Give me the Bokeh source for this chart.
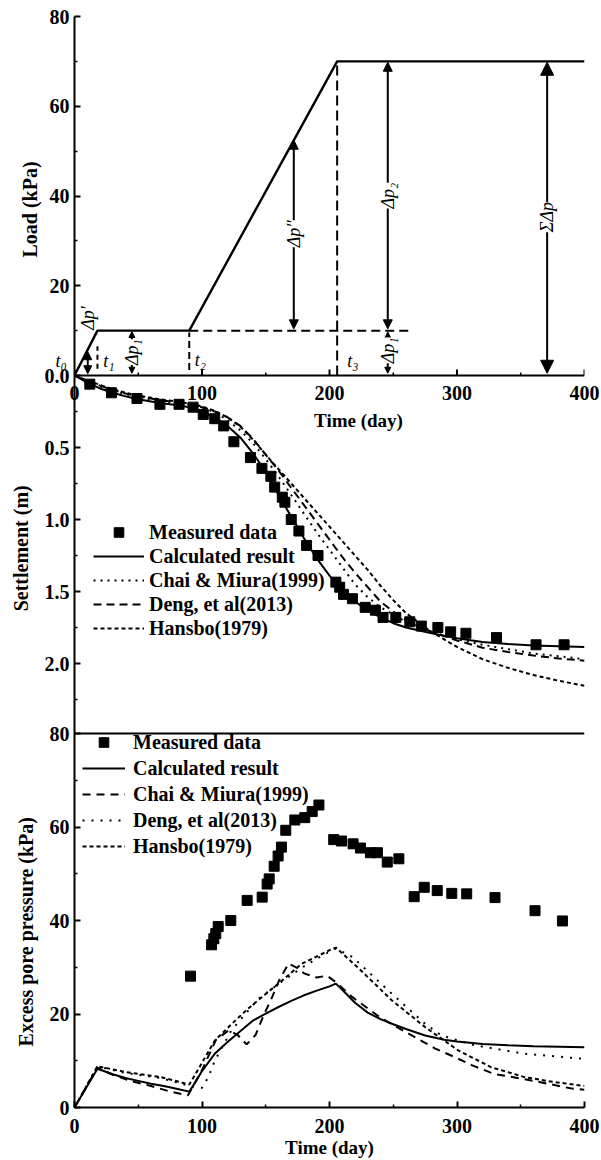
import math
import numpy as np
from bokeh.plotting import figure
from bokeh.models import (Range1d, FixedTicker, CustomJSTickFormatter, Span, Label, Arrow,
                          NormalHead, Legend, LegendItem)
from bokeh.core.properties import value
from bokeh.embed import file_html
from bokeh.resources import INLINE

# ---------------- data ----------------
# load schedule (top panel)
load_days = [0, 18, 90, 206, 400]
load_kpa = [0, 10, 10, 70, 70]

# settlement (middle panel)
settle_meas_days = [12, 29, 49, 67, 82, 93, 101, 110, 117, 125, 138, 147, 154, 157, 163, 165, 170, 176,
                    182, 191, 205, 208, 211, 218, 228, 236, 242, 252, 263, 272, 285, 295, 307, 331, 362, 384]
settle_meas = [0.06, 0.12, 0.16, 0.20, 0.20, 0.22, 0.27, 0.30, 0.35, 0.46, 0.57, 0.645, 0.70, 0.775, 0.845,
               0.88, 1.0, 1.08, 1.18, 1.25, 1.435, 1.47, 1.52, 1.55, 1.61, 1.63, 1.68, 1.68, 1.71, 1.74,
               1.75, 1.78, 1.79, 1.82, 1.87, 1.87]
settle_days = [0, 10, 20, 30, 40, 50, 60, 70, 80, 90, 100, 110, 120, 130, 140, 150, 160, 170, 180, 190,
               200, 210, 220, 230, 240, 250, 260, 280, 300, 320, 340, 360, 380, 400]
settle_calc = [0, 0.05, 0.09, 0.12, 0.145, 0.165, 0.18, 0.195, 0.205, 0.22, 0.25, 0.29, 0.35, 0.43, 0.54,
               0.67, 0.83, 0.98, 1.13, 1.27, 1.39, 1.49, 1.57, 1.63, 1.68, 1.72, 1.75, 1.79, 1.825, 1.85,
               1.865, 1.875, 1.88, 1.885]
settle_chai = [0, 0.04, 0.075, 0.105, 0.13, 0.15, 0.165, 0.18, 0.19, 0.205, 0.225, 0.255, 0.31, 0.38, 0.47,
               0.58, 0.70, 0.83, 0.96, 1.09, 1.21, 1.33, 1.45, 1.54, 1.61, 1.66, 1.71, 1.78, 1.83, 1.87,
               1.90, 1.93, 1.95, 1.97]
settle_deng = [0, 0.04, 0.07, 0.10, 0.125, 0.145, 0.16, 0.175, 0.185, 0.20, 0.22, 0.25, 0.29, 0.35, 0.44,
               0.55, 0.66, 0.78, 0.90, 1.02, 1.14, 1.26, 1.37, 1.47, 1.57, 1.64, 1.70, 1.78, 1.84, 1.89,
               1.92, 1.945, 1.965, 1.98]
settle_hansbo = [0, 0.035, 0.065, 0.095, 0.12, 0.14, 0.155, 0.17, 0.18, 0.195, 0.215, 0.245, 0.29, 0.355,
                 0.445, 0.55, 0.65, 0.75, 0.85, 0.95, 1.05, 1.15, 1.25, 1.35, 1.46, 1.56, 1.65, 1.78, 1.885,
                 1.97, 2.03, 2.08, 2.12, 2.155]

# excess pore pressure (bottom panel)
pore_meas_days = [91, 107.5, 109.3, 110.8, 112.7, 122.6, 135.4, 147.2, 151.1, 152.7, 156.6, 159.7, 162.3,
                  165.7, 172.8, 180.6, 186.4, 191.7, 203.3, 209.4, 218.5, 224.3, 232.1, 237.6, 245.3, 254.4,
                  266.4, 274.3, 284.5, 295.9, 307.6, 329.8, 361.2, 382.7]
pore_meas = [28.1, 34.8, 36.1, 37.2, 38.7, 40.0, 44.3, 45.0, 47.8, 48.9, 51.6, 53.8, 55.7, 59.3, 61.5, 62.0,
             63.3, 64.7, 57.3, 57.0, 56.4, 55.5, 54.5, 54.5, 52.5, 53.2, 45.1, 47.1, 46.4, 45.8, 45.7, 44.9,
             42.1, 39.9]
pore_calc_days = [0, 18, 30, 40, 50, 60, 70, 80, 90, 95, 100, 110, 120, 130, 140, 150, 160, 170, 180, 190,
                  200, 205, 210, 220, 230, 240, 250, 260, 275, 290, 300, 320, 340, 360, 380, 400]
pore_calc = [0, 8.3, 7.1, 6.3, 5.7, 5.1, 4.6, 4.0, 3.4, 5.5, 7.8, 11.5, 14.0, 16.3, 18.6, 20.1, 21.5, 22.8,
             24.0, 25.0, 25.9, 26.5, 25.2, 22.4, 20.3, 18.9, 17.8, 16.8, 15.4, 14.5, 14.1, 13.6, 13.3, 13.1,
             13.0, 12.9]
pore_chai_days = [0, 18, 30, 45, 60, 75, 89, 100, 111, 121, 128, 135, 142, 148, 155, 161, 168, 175, 180, 190,
                  198, 205, 218, 240, 262, 283, 298, 312, 329, 362, 389, 400]
pore_chai = [0, 8.5, 7.0, 5.6, 4.6, 3.4, 2.6, 8.0, 14.5, 16.5, 15.5, 13.5, 15.5, 19.5, 23.6, 27.5, 30.8, 29.8,
             28.7, 27.8, 28.2, 26.8, 23.6, 19.2, 15.8, 12.6, 10.8, 9.0, 7.2, 5.6, 4.1, 3.8]
pore_deng_days = [0, 18, 40, 68, 90, 100, 105, 110, 123, 144, 163, 180, 195, 205, 218, 249, 275, 288, 314,
                  353, 400]
pore_deng = [0, 8.8, 7.4, 6.3, 4.6, 4.2, 6.5, 10.0, 16.5, 23.2, 27.0, 30.2, 32.6, 34.0, 32.2, 24.3, 17.9,
             15.4, 13.3, 11.5, 10.4]
pore_hansbo_days = [0, 18, 40, 68, 90, 95, 110, 123, 136, 150, 163, 178, 190, 202, 205, 222, 249, 275, 301,
                    327, 353, 375, 400]
pore_hansbo = [0, 8.8, 7.6, 6.5, 4.9, 7.2, 14.3, 17.8, 21.1, 24.3, 27.2, 30.7, 32.3, 33.9, 34.2, 30.0, 22.9,
               17.2, 12.2, 8.6, 6.5, 5.5, 4.6]

# ticks
time_ticks = [0, 100, 200, 300, 400]
time_minor = [50, 150, 250, 350]
load_ticks = [0, 20, 40, 60, 80]
load_minor = [10, 30, 50, 70]
settle_ticks = [0.0, 0.5, 1.0, 1.5, 2.0]
settle_minor = [0.25, 0.75, 1.25, 1.75, 2.25]
pore_ticks = [0, 20, 40, 60, 80]
pore_minor = [10, 30, 50, 70]

legend_labels = ["Measured data", "Calculated result", "Chai & Miura(1999)", "Deng, et al(2013)", "Hansbo(1979)"]

# ---------------- layout (screen pixels) ----------------
W, H = 601, 1160
FL, FR, FT, FB = 74, 584, 16, 1107
Y_LOAD0, Y_PORE80 = 375, 733
SETTLE_AT_PORE80 = 2.486
LOAD_MAX, PORE_MAX, T_MAX = 80, 80, 400
FONT = "Liberation Serif"

frame_h = FB - FT
f_pore = (FB - Y_PORE80) / frame_h
f_load = (FB - Y_LOAD0) / frame_h
pore_end = PORE_MAX / f_pore
load_start = -LOAD_MAX * f_load / (1 - f_load)


def s_at(f):
    return SETTLE_AT_PORE80 * (f_load - f) / (f_load - f_pore)


def load_to_main(v):
    return (f_load + v / LOAD_MAX * (1 - f_load)) * pore_end


def settle_to_main(s):
    return (f_load - s / SETTLE_AT_PORE80 * (f_load - f_pore)) * pore_end


px_per_day = (FR - FL) / T_MAX
px_per_load = (Y_LOAD0 - FT) / LOAD_MAX
px_per_pore = (FB - Y_PORE80) / PORE_MAX

p = figure(width=W, height=H, x_range=Range1d(0, T_MAX), y_range=Range1d(0, pore_end),
           output_backend="svg", toolbar_location=None,
           min_border_left=FL, min_border_right=W - FR, min_border_top=FT, min_border_bottom=H - FB)
p.extra_y_ranges = {"load": Range1d(load_start, LOAD_MAX), "settle": Range1d(s_at(0), s_at(1))}
p.xgrid.grid_line_color = None
p.ygrid.grid_line_color = None
p.outline_line_color = None
p.background_fill_color = "white"
p.border_fill_color = "white"

# ---- left composite axis ----
major_pos, major_lab = [], []
for v in pore_ticks:
    major_pos.append(float(v)); major_lab.append(str(v))
for s in settle_ticks[1:]:
    major_pos.append(settle_to_main(s)); major_lab.append(f"{s:.1f}")
major_pos.append(load_to_main(0)); major_lab.append("0.0")
for v in load_ticks[1:]:
    major_pos.append(load_to_main(v)); major_lab.append(str(v))
minor_pos = [float(v) for v in pore_minor] + [settle_to_main(s) for s in settle_minor] + \
            [load_to_main(v) for v in load_minor]

yax = p.yaxis[0]
yax.ticker = FixedTicker(ticks=major_pos, minor_ticks=minor_pos)
yax.formatter = CustomJSTickFormatter(args=dict(pos=major_pos, lab=major_lab), code="""
let best = 0; let d = Infinity;
for (let i = 0; i < pos.length; i++) { const dd = Math.abs(pos[i] - tick); if (dd < d) { d = dd; best = i; } }
return lab[best];
""")
xax = p.xaxis[0]
xax.ticker = FixedTicker(ticks=time_ticks, minor_ticks=time_minor)
for ax in (xax, yax):
    ax.axis_line_width = 2
    ax.major_tick_in = 6
    ax.major_tick_out = 0
    ax.minor_tick_in = 3
    ax.minor_tick_out = 0
    ax.major_tick_line_width = 2
    ax.minor_tick_line_width = 1.5
    ax.major_label_text_font = FONT
    ax.major_label_text_font_style = "bold"
    ax.major_label_text_font_size = "20px"
    ax.major_label_text_color = "black"
yax.major_label_standoff = 5
xax.major_label_standoff = 11

# bottom time-axis title
p.text(x=[T_MAX / 2], y=[-(1147 - FB) / px_per_pore], text=["Time (day)"], text_align="center",
       text_baseline="middle", text_font=value(FONT), text_font_style="bold", text_font_size="19px",
       text_color="black", level="overlay")

# ---- panel separators / middle time axis ----
p.add_layout(Span(location=0, dimension="width", y_range_name="load", line_width=2, line_color="black"))
p.add_layout(Span(location=PORE_MAX, dimension="width", line_width=2, line_color="black"))
p.segment(x0=time_ticks, y0=0, x1=time_ticks, y1=6 / px_per_load, y_range_name="load",
          line_width=2, line_color="black")
p.segment(x0=time_minor, y0=0, x1=time_minor, y1=3 / px_per_load, y_range_name="load",
          line_width=1.5, line_color="black")
p.text(x=time_ticks, y=-17 / px_per_load, text=[str(t) for t in time_ticks], y_range_name="load",
       text_align="center", text_baseline="middle", text_font=value(FONT), text_font_style="bold",
       text_font_size="20px", text_color="black", level="overlay")
p.text(x=[(358 - FL) / px_per_day], y=-45 / px_per_load, text=["Time (day)"], y_range_name="load",
       text_align="center", text_baseline="middle", text_font=value(FONT), text_font_style="bold",
       text_font_size="19px", text_color="black", level="overlay")

# left axis titles
for txt, xpx, yv, rng in [("Load (kPa)", 29, 37, "load"),
                          ("Settlement (m)", 20.5, 1.20, "settle"),
                          ("Excess pore pressure (kPa)", 25, 37.6, "default")]:
    p.text(x=[(xpx - FL) / px_per_day], y=[yv], text=[txt], y_range_name=rng, angle=math.pi / 2,
           text_align="center", text_baseline="middle", text_font=value(FONT), text_font_style="bold",
           text_font_size="20px", text_color="black", level="overlay")

# ---- top panel: load schedule ----
t1, t2, t3 = load_days[1], load_days[2], load_days[3]
p1, p2 = load_kpa[1], load_kpa[3]
p.line([t2, 263], [p1, p1], y_range_name="load", line_width=2, line_dash="9 5", color="black")
p.line([t3, t3], [0, p2], y_range_name="load", line_width=2, line_dash="10 5", color="black")
p.line([t1, t1], [1.5, 6.5], y_range_name="load", line_width=2, line_dash="5 4", color="black")
p.line([t2, t2], [1.2, 9.6], y_range_name="load", line_width=2, line_dash="7 4", color="black")
p.line(load_days, load_kpa, y_range_name="load", line_width=2.4, color="black")

arrow_specs = [(10.4, 0.4, 5.3, 8), (45, 0.5, p1 - 0.2, 6), (172, p1 + 0.4, float(np.interp(172, load_days, load_kpa)), 9),
               (245.7, p1 + 0.4, p2 - 0.2, 9), (245.7, 0.5, p1 - 0.3, 6), (370.7, 0.5, p2 - 0.2, 13)]
for x, ya, yb, hs in arrow_specs:
    p.add_layout(Arrow(x_start=x, y_start=ya, x_end=x, y_end=yb, y_range_name="load", line_width=2,
                       start=NormalHead(size=hs, fill_color="black", line_color="black", line_width=1),
                       end=NormalHead(size=hs, fill_color="black", line_color="black", line_width=1)))

text_specs = [("Δp′", 10.6, 12.8, True, False), ("Δp₁", 45.3, 5.2, True, True), ("Δp″", 172, 31.6, True, True),
              ("Δp₂", 245.7, 40.1, True, True), ("Δp₁", 245.7, 5.6, True, True), ("ΣΔp", 370.7, 35.3, True, True),
              ("t₁", 26.9, 3.3, False, False), ("t₂", 98.8, 3.5, False, False), ("t₃", 218.3, 3.3, False, False)]
for txt, x, y, rot, bg in text_specs:
    p.add_layout(Label(x=x, y=y, y_range_name="load", text=txt, angle=math.pi / 2 if rot else 0,
                       text_align="center", text_baseline="middle", text_font=FONT, text_font_style="italic",
                       text_font_size="18px", text_color="black",
                       background_fill_color="white" if bg else None))
p.text(x=[-10.4], y=[3.3], text=["t₀"], y_range_name="load", text_align="center", text_baseline="middle",
       text_font=value(FONT), text_font_style="italic", text_font_size="18px", text_color="black",
       level="overlay")

# ---- middle panel: settlement ----
s_calc = p.line(settle_days, settle_calc, y_range_name="settle", line_width=2, color="black")
s_chai = p.line(settle_days, settle_chai, y_range_name="settle", line_width=2, color="black", line_dash="2 5")
s_deng = p.line(settle_days, settle_deng, y_range_name="settle", line_width=2, color="black", line_dash="8 5")
s_hans = p.line(settle_days, settle_hansbo, y_range_name="settle", line_width=2, color="black", line_dash="4 3")
s_meas = p.scatter(settle_meas_days, settle_meas, y_range_name="settle", marker="square", size=10, color="black")

# ---- bottom panel: excess pore pressure ----
q_calc = p.line(pore_calc_days, pore_calc, line_width=2, color="black")
q_chai = p.line(pore_chai_days, pore_chai, line_width=2, color="black", line_dash="8 6")
q_deng = p.line(pore_deng_days, pore_deng, line_width=2, color="black", line_dash="2 7")
q_hans = p.line(pore_hansbo_days, pore_hansbo, line_width=2, color="black", line_dash="4 3")
q_meas = p.scatter(pore_meas_days, pore_meas, marker="square", size=10, color="black")


def make_legend(rends, loc, gw, standoff, row_h, spacing):
    lg = Legend(items=[LegendItem(label=l, renderers=[r]) for l, r in zip(legend_labels, rends)],
                location=loc, glyph_width=gw, glyph_height=row_h, label_height=row_h, label_standoff=standoff,
                spacing=spacing, padding=0, margin=0, border_line_color=None, background_fill_alpha=0,
                label_text_font=FONT, label_text_font_style="bold", label_text_font_size="20px",
                label_text_color="black")
    p.add_layout(lg)


make_legend([s_meas, s_calc, s_chai, s_deng, s_hans], (19, 467), 51, 5, 24, 0)
make_legend([q_meas, q_calc, q_chai, q_deng, q_hans], (8, 249), 43, 8, 24, 2)

open("out.html", "w").write(file_html(p, INLINE))
